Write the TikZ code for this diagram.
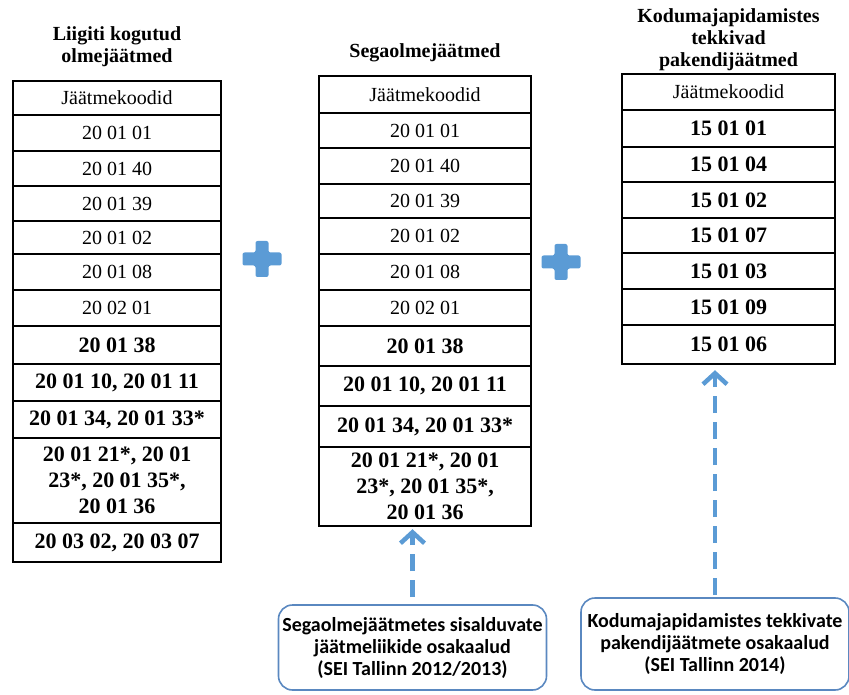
\documentclass[tikz,border=0pt]{standalone}
\usepackage{fontspec}
\setmainfont{Liberation Serif}
\newfontfamily\calfont{Carlito}
\usetikzlibrary{arrows.meta}
\newcommand\codeb[1]{{\fontsize{22}{26}\selectfont\bfseries #1}}

\begin{document}
\begin{tikzpicture}
		[x=1pt,y=-1pt,line cap=butt,
		%Styles
		cell/.style={draw,line width=2.2pt,anchor=north,align=center,inner sep=1pt,font=\fontsize{20}{26}\selectfont},
		title text/.style={align=center,font=\fontsize{20}{22}\selectfont\bfseries},
		source box/.style={draw=boxblue,line width=1.6pt,rounded corners=14pt,align=center,minimum width=268pt,font=\calfont\fontsize{20}{22}\selectfont\bfseries},
		source arrow/.style={arrowblue,line width=4.5pt,dash pattern=on 17pt off 9pt,-{Straight Barb[length=11pt,width=24pt,line width=4.5pt]}}
		]
		
		%Colors
		\definecolor{plusblue}{HTML}{5B9BD5}
		\definecolor{arrowblue}{HTML}{5B9BD5}
		\definecolor{boxblue}{HTML}{5A88C0}
		
		\useasboundingbox (0,0) rectangle (849,695);
		
		%Titles
		\node[title text] (liigiti) at (117,47) {Liigiti kogutud\\olmejäätmed};
		\node[title text] (sega) at (425,53) {Segaolmejäätmed};
		\node[title text] (pakend) at (728.5,40) {Kodumajapidamistes\\tekkivad\\pakendijäätmed};
		
		%Left table
		\foreach \t/\b/\txt [count=\i] in {80/114/Jäätmekoodid, 114/150/20 01 01, 150/185/20 01 40, 185/220/20 01 39,
			220/253/20 01 02, 253/289/20 01 08, 289/325/20 02 01, 325/363/\codeb{20 01 38},
			363/400/{\codeb{20 01 10, 20 01 11}}, 400/437/{\codeb{20 01 34, 20 01 33*}},
			437/522/{\codeb{20 01 21*, 20 01}\\\codeb{23*, 20 01 35*,}\\\codeb{20 01 36}},
			522/561/{\codeb{20 03 02, 20 03 07}}}
			\node[cell,minimum width=208pt,minimum height={\b-\t}] (L\i) at (117,\t) {\txt};
		
		%Middle table
		\foreach \t/\b/\txt [count=\i] in {75/112/Jäätmekoodid, 112/147/20 01 01, 147/183/20 01 40, 183/217/20 01 39,
			217/253/20 01 02, 253/289/20 01 08, 289/325/20 02 01, 325/365/\codeb{20 01 38},
			365/405/{\codeb{20 01 10, 20 01 11}}, 405/446/{\codeb{20 01 34, 20 01 33*}},
			446/525/{\codeb{20 01 21*, 20 01}\\\codeb{23*, 20 01 35*,}\\\codeb{20 01 36}}}
			\node[cell,minimum width=212pt,minimum height={\b-\t}] (M\i) at (425,\t) {\txt};
		
		%Right table
		\foreach \t/\b/\txt [count=\i] in {73/109/Jäätmekoodid, 109/146/\codeb{15 01 01}, 146/181/\codeb{15 01 04},
			181/217/\codeb{15 01 02}, 217/252/\codeb{15 01 07}, 252/288/\codeb{15 01 03},
			288/324/\codeb{15 01 09}, 324/363/\codeb{15 01 06}}
			\node[cell,minimum width=213pt,minimum height={\b-\t}] (R\i) at (728.5,\t) {\txt};
		
		%Plus signs
		\foreach \cx/\cy in {262/259, 561/262}
			\fill[plusblue,rounded corners=2pt] ({\cx-6.5},{\cy-18}) -- ({\cx+6.5},{\cy-18}) -- ({\cx+6.5},{\cy-6.5})
				-- ({\cx+19.5},{\cy-6.5}) -- ({\cx+19.5},{\cy+6.5}) -- ({\cx+6.5},{\cy+6.5}) -- ({\cx+6.5},{\cy+18})
				-- ({\cx-6.5},{\cy+18}) -- ({\cx-6.5},{\cy+6.5}) -- ({\cx-19.5},{\cy+6.5}) -- ({\cx-19.5},{\cy-6.5})
				-- ({\cx-6.5},{\cy-6.5}) -- cycle;
		
		%Sources
		\node[source box,minimum height=85pt] (segasrc) at (412.5,647.5) {Segaolmejäätmetes sisalduvate\\jäätmeliikide osakaalud\\(SEI Tallinn 2012/2013)};
		\node[source box,minimum height=92pt] (pakendsrc) at (715,644) {Kodumajapidamistes tekkivate\\pakendijäätmete osakaalud\\(SEI Tallinn 2014)};
		
		\draw[source arrow,shorten <=7pt,shorten >=2pt] (segasrc.north) -- (segasrc.north |- M11.south);
		\draw[source arrow,shorten <=2pt,shorten >=5pt] (pakendsrc.north) -- (pakendsrc.north |- R8.south);
	\end{tikzpicture}
\end{document}
